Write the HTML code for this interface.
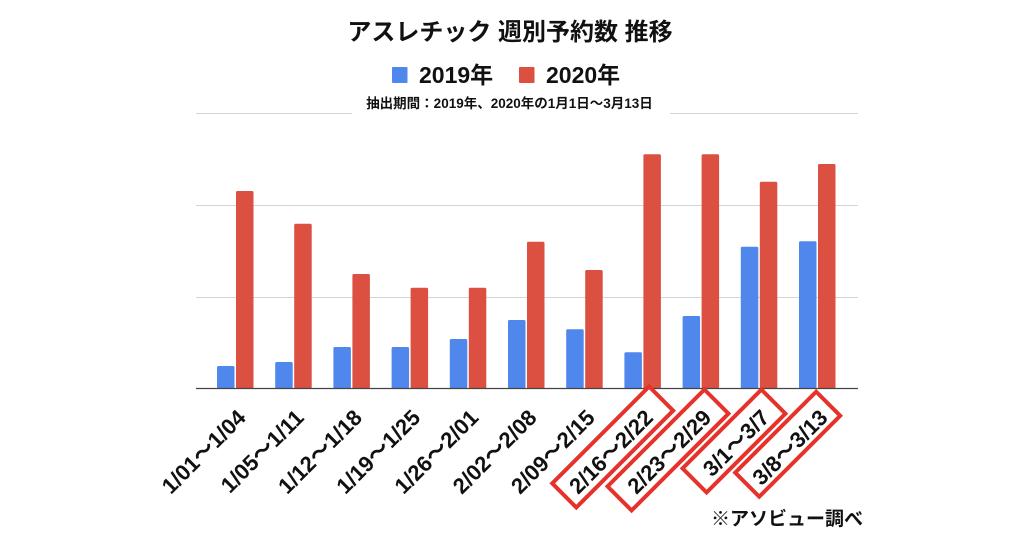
<!DOCTYPE html>
<html><head><meta charset="utf-8"><style>
html,body{margin:0;padding:0;background:#fff;}
svg{display:block;}
text{font-family:"Liberation Sans","Noto Sans CJK JP",sans-serif;font-weight:bold;fill:#111;}
</style></head><body>
<svg width="1024" height="538" viewBox="0 0 1024 538" xmlns="http://www.w3.org/2000/svg">
<rect width="1024" height="538" fill="#fff"/>
<!-- title -->
<text x="510" y="40" font-size="24" text-anchor="middle">アスレチック 週別予約数 推移</text>
<!-- legend -->
<rect x="392" y="67" width="15.5" height="16" rx="1" fill="#5087EC"/>
<text x="419" y="83" font-size="23">2019年</text>
<rect x="519" y="67" width="15.5" height="16" rx="1" fill="#DB5040"/>
<text x="546" y="83" font-size="23">2020年</text>
<!-- subtitle -->
<text x="509.5" y="108" font-size="13.5" text-anchor="middle">抽出期間：2019年、2020年の1月1日～3月13日</text>
<!-- gridlines -->
<g stroke="#d4d4d4" stroke-width="1">
<line x1="196" y1="113.5" x2="352" y2="113.5"/>
<line x1="670" y1="113.5" x2="858" y2="113.5"/>
<line x1="196" y1="205.5" x2="858" y2="205.5"/>
<line x1="196" y1="297.5" x2="858" y2="297.5"/>
</g>
<!-- bars -->
<g fill="#5087EC">
<rect x="217" y="366" width="17.5" height="22.5" rx="1.5"/>
<rect x="275.2" y="362" width="17.5" height="26.5" rx="1.5"/>
<rect x="333.4" y="347" width="17.5" height="41.5" rx="1.5"/>
<rect x="391.6" y="347" width="17.5" height="41.5" rx="1.5"/>
<rect x="449.8" y="339" width="17.5" height="49.5" rx="1.5"/>
<rect x="508" y="320" width="17.5" height="68.5" rx="1.5"/>
<rect x="566.2" y="329.3" width="17.5" height="59.2" rx="1.5"/>
<rect x="624.4" y="352.3" width="17.5" height="36.2" rx="1.5"/>
<rect x="682.6" y="316" width="17.5" height="72.5" rx="1.5"/>
<rect x="740.8" y="246.7" width="17.5" height="141.8" rx="1.5"/>
<rect x="799" y="241.3" width="17.5" height="147.2" rx="1.5"/>
</g>
<g fill="#DB5040">
<rect x="236" y="191" width="17.5" height="197.5" rx="1.5"/>
<rect x="294.2" y="223.7" width="17.5" height="164.8" rx="1.5"/>
<rect x="352.4" y="274" width="17.5" height="114.5" rx="1.5"/>
<rect x="410.6" y="287.7" width="17.5" height="100.8" rx="1.5"/>
<rect x="468.8" y="287.7" width="17.5" height="100.8" rx="1.5"/>
<rect x="527" y="241.7" width="17.5" height="146.8" rx="1.5"/>
<rect x="585.2" y="270" width="17.5" height="118.5" rx="1.5"/>
<rect x="643.4" y="154.3" width="17.5" height="234.2" rx="1.5"/>
<rect x="701.6" y="154.3" width="17.5" height="234.2" rx="1.5"/>
<rect x="759.8" y="181.7" width="17.5" height="206.8" rx="1.5"/>
<rect x="818" y="164" width="17.5" height="224.5" rx="1.5"/>
</g>
<!-- baseline -->
<line x1="196" y1="388.5" x2="858" y2="388.5" stroke="#444" stroke-width="1.2"/>
<!-- x labels -->
<g font-size="22" text-anchor="end">
<text transform="translate(247,419) rotate(-45)">1/01～1/04</text>
<text transform="translate(305.2,419) rotate(-45)">1/05～1/11</text>
<text transform="translate(363.4,419) rotate(-45)">1/12～1/18</text>
<text transform="translate(421.6,419) rotate(-45)">1/19～1/25</text>
<text transform="translate(479.8,419) rotate(-45)">1/26～2/01</text>
<text transform="translate(538,419) rotate(-45)">2/02～2/08</text>
<text transform="translate(596.2,419) rotate(-45)">2/09～2/15</text>
<text transform="translate(654.4,419) rotate(-45)">2/16～2/22</text>
<text transform="translate(712.6,419) rotate(-45)">2/23～2/29</text>
<text transform="translate(770.8,419) rotate(-45)">3/1～3/7</text>
<text transform="translate(829,419) rotate(-45)">3/8～3/13</text>
</g>
<!-- red boxes -->
<g fill="none" stroke="#E5322A" stroke-width="4">
<rect transform="translate(612.7,447) rotate(-45)" x="-68.5" y="-17" width="137" height="34"/>
<rect transform="translate(668,450) rotate(-45)" x="-68.5" y="-17" width="137" height="34"/>
<rect transform="translate(734,441) rotate(-45)" x="-55.75" y="-17" width="111.5" height="34"/>
<rect transform="translate(787.7,444.2) rotate(-45)" x="-57.25" y="-17" width="114.5" height="34"/>
</g>
<!-- footnote -->
<text x="863" y="525" font-size="19" text-anchor="end">※アソビュー調べ</text>
</svg>
</body></html>
